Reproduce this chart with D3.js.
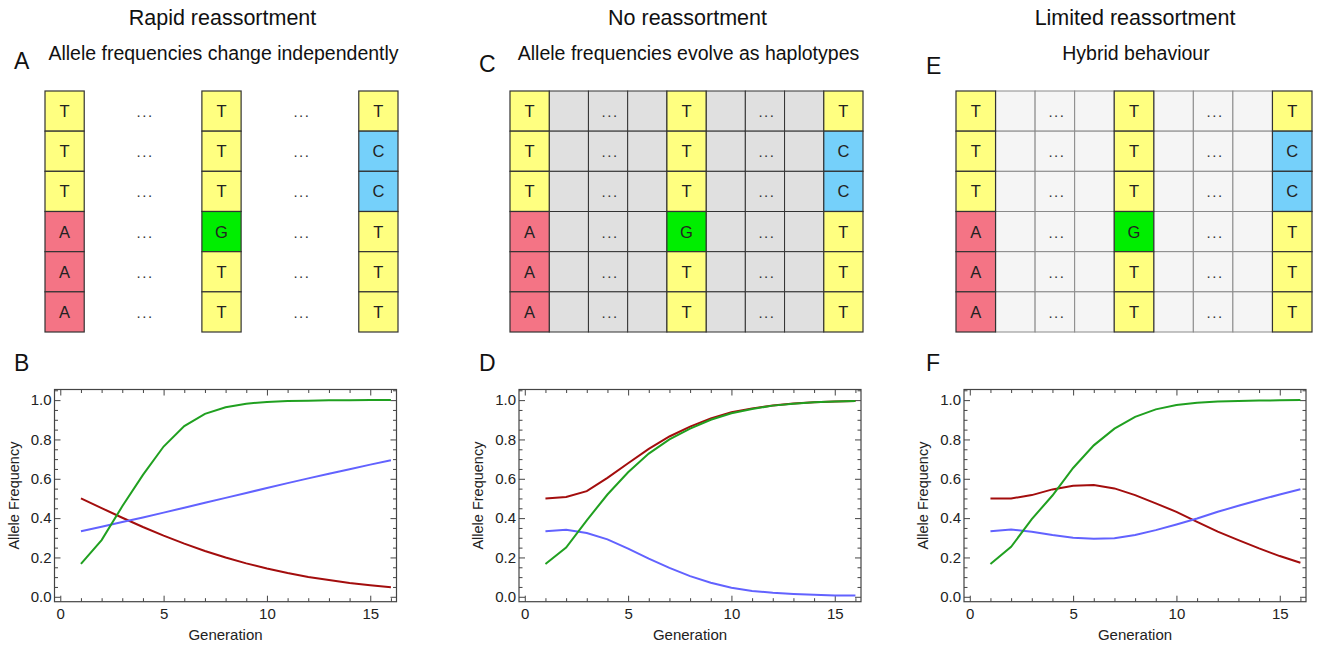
<!DOCTYPE html>
<html lang="en">

<head>
    <meta charset="UTF-8">
    <title>Reassortment</title>
    <script src="https://d3js.org/d3.v7.min.js"></script>
    <style>
        body {
            margin: 0;
            background: white;
        }

        svg {
            font-family: "Liberation Sans", Arial, sans-serif;
        }
    </style>
</head>

<body>
    <svg width="1317" height="647"></svg>
    <script>
        // alignment columns (first, middle, last site)
        var siteFirst = ['T', 'T', 'T', 'A', 'A', 'A'];
        var siteMiddle = ['T', 'T', 'T', 'G', 'T', 'T'];
        var siteLast = ['T', 'C', 'C', 'T', 'T', 'T'];

        var generations = [1, 2, 3, 4, 5, 6, 7, 8, 9, 10, 11, 12, 13, 14, 15, 16];

        // B: rapid reassortment
        var rapidA = [0.500, 0.451, 0.402, 0.355, 0.311, 0.270, 0.233, 0.200, 0.170, 0.144, 0.121, 0.101, 0.085, 0.070, 0.059, 0.049];
        var rapidG = [0.167, 0.288, 0.460, 0.620, 0.764, 0.868, 0.930, 0.964, 0.982, 0.991, 0.995, 0.997, 0.999, 0.999, 1.000, 1.000];
        var rapidC = [0.333, 0.356, 0.380, 0.403, 0.428, 0.453, 0.478, 0.503, 0.528, 0.553, 0.578, 0.602, 0.626, 0.649, 0.672, 0.694];
        // D: no reassortment
        var noA = [0.500, 0.507, 0.537, 0.605, 0.679, 0.752, 0.815, 0.865, 0.907, 0.938, 0.958, 0.973, 0.983, 0.989, 0.993, 0.995];
        var noG = [0.167, 0.250, 0.389, 0.520, 0.633, 0.728, 0.800, 0.855, 0.900, 0.933, 0.955, 0.972, 0.982, 0.989, 0.993, 0.995];
        var noC = [0.333, 0.341, 0.324, 0.292, 0.245, 0.194, 0.147, 0.105, 0.071, 0.046, 0.030, 0.020, 0.014, 0.010, 0.007, 0.006];
        // F: limited reassortment
        var limitedA = [0.500, 0.500, 0.517, 0.546, 0.564, 0.568, 0.551, 0.517, 0.475, 0.432, 0.381, 0.331, 0.288, 0.246, 0.207, 0.173];
        var limitedG = [0.167, 0.254, 0.395, 0.515, 0.655, 0.770, 0.855, 0.915, 0.953, 0.975, 0.987, 0.993, 0.996, 0.998, 0.999, 1.000];
        var limitedC = [0.333, 0.342, 0.331, 0.314, 0.300, 0.295, 0.298, 0.314, 0.339, 0.368, 0.398, 0.432, 0.463, 0.492, 0.520, 0.547];

        var xMajor = [0, 5, 10, 15];
        var xMinor = [1, 2, 3, 4, 6, 7, 8, 9, 11, 12, 13, 14, 16];
        var yMajor = [0, 0.2, 0.4, 0.6, 0.8, 1.0];
        var yMinor = [0.05, 0.1, 0.15, 0.25, 0.3, 0.35, 0.45, 0.5, 0.55, 0.65, 0.7, 0.75, 0.85, 0.9, 0.95, 1.05];

        var baseColors = { T: '#ffff80', A: '#f47485', G: '#00ee00', C: '#75d0fa' };
        var lineColors = { A: '#a30d0d', G: '#20a020', C: '#6262ff' };

        var panels = [
            { title: 'Rapid reassortment', sub: 'Allele frequencies change independently', top: 'A', bottom: 'B',
              gridX: 45, gridW: 353, filler: null, letterX: 14, letterY: 69, plotX: 54.5, series: [rapidA, rapidC, rapidG] },
            { title: 'No reassortment', sub: 'Allele frequencies evolve as haplotypes', top: 'C', bottom: 'D',
              gridX: 510, gridW: 353, filler: { fill: '#e0e0e0', stroke: '#333' }, letterX: 479, letterY: 72, plotX: 519, series: [noA, noC, noG] },
            { title: 'Limited reassortment', sub: 'Hybrid behaviour', top: 'E', bottom: 'F',
              gridX: 956, gridW: 356, filler: { fill: '#f5f5f5', stroke: '#8a8a8a' }, letterX: 926, letterY: 74, plotX: 964, series: [limitedA, limitedC, limitedG] }
        ];

        var svg = d3.select('svg');
        var rows = d3.range(6);
        var gridTop = 91, gridBottom = 332;
        var plotW = 342, plotTop = 389.5, plotBottom = 601.7;

        panels.forEach(p => {
            var g = svg.append('g');
            var cx = p.gridX + p.gridW / 2;

            g.append('text').text(p.title).attr('x', cx + 1).attr('y', 25)
                .attr('text-anchor', 'middle').style('font-size', '21.5px').style('fill', '#111');
            g.append('text').text(p.sub).attr('x', cx + 2).attr('y', 60)
                .attr('text-anchor', 'middle').style('font-size', '19.5px').style('fill', '#111');
            g.append('text').text(p.top).attr('x', p.letterX).attr('y', p.letterY)
                .style('font-size', '23px').style('fill', '#111');
            g.append('text').text(p.bottom).attr('x', p.letterX).attr('y', 371)
                .style('font-size', '23px').style('fill', '#111');

            // alignment grid
            var colScale = d3.scaleBand().domain(d3.range(9)).range([p.gridX, p.gridX + p.gridW]);
            var rowScale = d3.scaleBand().domain(rows).range([gridTop, gridBottom]);

            if (p.filler) {
                [1, 2, 3, 5, 6, 7].forEach(c => {
                    g.selectAll(null).data(rows).enter().append('rect')
                        .attr('x', colScale(c)).attr('y', r => rowScale(r))
                        .attr('width', colScale.bandwidth()).attr('height', rowScale.bandwidth())
                        .style('fill', p.filler.fill).style('stroke', p.filler.stroke).style('stroke-width', 1);
                });
            }

            [[0, siteFirst], [4, siteMiddle], [8, siteLast]].forEach(([c, bases]) => {
                var cell = g.selectAll(null).data(bases).enter().append('g')
                    .attr('transform', (d, i) => 'translate(' + colScale(c) + ',' + rowScale(i) + ')');
                cell.append('rect')
                    .attr('width', colScale.bandwidth()).attr('height', rowScale.bandwidth())
                    .style('fill', d => baseColors[d]).style('stroke', '#333').style('stroke-width', 1.2);
                cell.append('text').text(d => d)
                    .attr('x', colScale.bandwidth() / 2).attr('y', rowScale.bandwidth() / 2 + 6)
                    .attr('text-anchor', 'middle').style('font-size', '16.5px').style('fill', '#222');
            });

            [2, 6].forEach(c => {
                g.selectAll(null).data(rows).enter().append('text').text('...')
                    .attr('x', colScale(c) + colScale.bandwidth() / 2 + 2)
                    .attr('y', r => rowScale(r) + rowScale.bandwidth() / 2 + 6)
                    .attr('text-anchor', 'middle').style('font-size', '15px')
                    .style('letter-spacing', '1.5px').style('fill', '#333');
            });

            // frequency plot
            var x = d3.scaleLinear().domain([-0.28, 16.27]).range([p.plotX, p.plotX + plotW]);
            var y = d3.scaleLinear().domain([-0.025, 1.054]).range([plotBottom, plotTop]);

            var addAxis = (axis, tx, ty, labels) => {
                var a = g.append('g').attr('transform', 'translate(' + tx + ',' + ty + ')').call(axis);
                a.select('.domain').remove();
                a.selectAll('line').style('stroke', '#444');
                a.selectAll('text').style('font-size', '15px').style('font-family', '"Liberation Sans", Arial, sans-serif').style('fill', '#222');
                if (!labels) a.selectAll('text').remove();
            };

            addAxis(d3.axisBottom(x).tickValues(xMajor).tickSize(-6).tickPadding(7).tickFormat(d3.format('d')), 0, plotBottom, true);
            addAxis(d3.axisBottom(x).tickValues(xMinor).tickSize(-3.5), 0, plotBottom, false);
            addAxis(d3.axisTop(x).tickValues(xMajor).tickSize(-6), 0, plotTop, false);
            addAxis(d3.axisTop(x).tickValues(xMinor).tickSize(-3.5), 0, plotTop, false);
            addAxis(d3.axisLeft(y).tickValues(yMajor).tickSize(-6).tickPadding(3).tickFormat(d3.format('.1f')), p.plotX, 0, true);
            addAxis(d3.axisLeft(y).tickValues(yMinor).tickSize(-3.5), p.plotX, 0, false);
            addAxis(d3.axisRight(y).tickValues(yMajor).tickSize(-6), p.plotX + plotW, 0, false);
            addAxis(d3.axisRight(y).tickValues(yMinor).tickSize(-3.5), p.plotX + plotW, 0, false);

            g.append('rect').attr('x', p.plotX).attr('y', plotTop)
                .attr('width', plotW).attr('height', plotBottom - plotTop)
                .style('fill', 'none').style('stroke', '#444').style('stroke-width', 1.2);

            var line = d3.line().x((d, i) => x(generations[i])).y(d => y(d));
            var keys = ['A', 'C', 'G'];
            g.selectAll('path.freq').data(p.series).enter().append('path')
                .attr('class', 'freq')
                .attr('d', line)
                .style('fill', 'none')
                .style('stroke', (d, i) => lineColors[keys[i]])
                .style('stroke-width', 2);

            g.append('text').text('Generation')
                .attr('x', p.plotX + plotW / 2).attr('y', 640)
                .attr('text-anchor', 'middle').style('font-size', '15px').style('fill', '#222');
            g.append('text').text('Allele Frequency')
                .attr('transform', 'translate(' + (p.plotX - 36) + ',' + ((plotTop + plotBottom) / 2) + ') rotate(-90)')
                .attr('text-anchor', 'middle').style('font-size', '14.5px').style('fill', '#222');
        });
    </script>
</body>

</html>
